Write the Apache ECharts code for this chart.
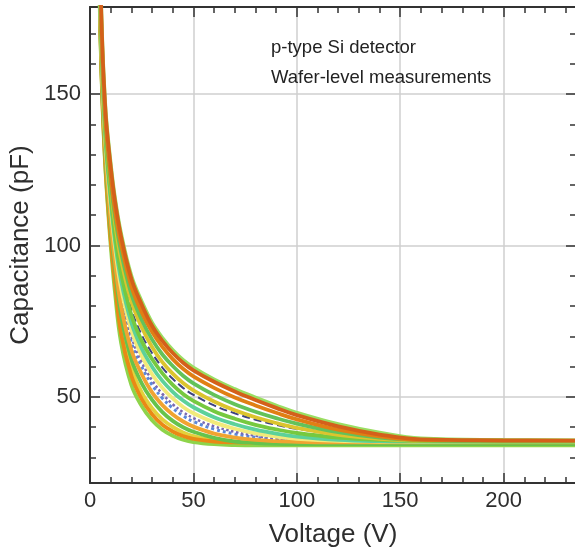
<!DOCTYPE html>
<html><head><meta charset="utf-8">
<script src="https://cdn.jsdelivr.net/npm/echarts@6/dist/echarts.min.js"></script>
<style>html,body{margin:0;padding:0;background:#fff}#c{width:575px;height:549px}</style>
</head><body><div id="c"></div>
<script>
// Bias voltage samples (V)
const voltages = [4,5,6,7,8,10,12,15,20,25,30,35,40,45,50,60,70,80,90,100,120,140,160,200,235];
// Capacitance curves (pF), lowest to highest
const c0  = [205,170,147,131,119,100,85,68,54,47,42.3,39.2,37.2,35.9,35.1,34.4,34.1,34,34,34,34,34,34,34,34];
const c1  = [207,171,148,132,120,102,88,71,57,49.3,44.3,40.8,38.6,37.1,36.2,35.3,35,34.9,34.8,34.8,34.8,34.8,34.8,34.8,34.8];
const c2  = [209,172,149,134,122,104,91,74,59.5,51.5,46.3,42.6,40.1,38.3,37.1,35.7,35.1,34.9,34.8,34.8,34.8,34.8,34.8,34.8,34.8];
const c3  = [211,173,150,135,123,106,93,77,62.5,54.5,49,45,42.1,40,38.5,36.5,35.3,34.8,34.5,34.4,34.4,34.4,34.4,34.4,34.4];
const c4  = [213,175,152,137,125,108,95,80,65.5,57.5,51.5,47.3,44.2,41.9,40.2,37.9,36.6,35.8,35.4,35.2,35,35,35,35,35];
const c5  = [215,176,153,138,126,110,97,82.5,68,60,54,49.6,46.3,43.8,41.9,39.4,37.8,36.7,35.9,35.5,35.1,35,35,35,35];
const c6  = [216,177,154,139,127,111,98,84,70,61.5,55.5,51,47.6,45,43,40.3,38.5,37.2,36.3,35.8,35.4,35.2,35.2,35.2,35.2];
const c7  = [218,178,155,140,128.5,113,100,86,72,63.5,57.5,53,49.5,46.7,44.6,41.6,39.5,38,36.9,36.2,35.5,35.3,35.2,35.2,35.2];
const c8  = [220,180,157,141.5,130,115,102,88.5,74.5,66,60,55.3,51.7,48.8,46.6,43.3,41,39.2,37.9,36.9,35.8,35.4,35.3,35.3,35.3];
const c9  = [222,181,158,143,131.5,117,104,91,77,68.5,62.5,57.8,54,51,48.7,45.3,42.8,40.8,39.3,38.1,36.6,35.8,35.4,35.3,35.3];
const c10 = [223,182,159,144,132.5,118,106,93,79,70.5,64.5,59.7,56,53,50.7,47.2,44.6,42.5,40.8,39.5,37.8,36.9,36.3,35.8,35.7];
const c11 = [225,184,160.5,145.5,134,120,108,95.5,81.5,73,66.5,61.5,57.7,54.6,52.2,48.5,45.6,43.3,41.4,39.8,37.5,36.2,35.6,35.5,35.5];
const c12 = [227,185,161.5,146.5,135,121,110,98,84,75.5,69,64,60.2,57,54.5,50.7,47.6,45.1,43,41.2,38.4,36.6,35.7,35.4,35.4];
const c13 = [229,187,163,148,137,123,112,100.5,86.5,78,71.5,66.5,62.5,59.3,56.8,53,49.8,47.2,44.8,42.6,39.2,37,35.8,35.6,35.6];
const c14 = [233,190,166,151,140.5,127,116,104,90,81.5,74.5,69.5,65.5,62.2,59.7,55.8,52.6,49.8,47.2,44.8,41,38.2,36.3,35.8,35.7];
const c15 = [232,189,165,150,139.5,126,115,103,89,80.5,73.5,68.5,64.5,61.3,58.8,55,51.8,49,46.4,44,40.3,37.6,36,35.7,35.6];
const curves = [c0,c1,c2,c3,c4,c5,c6,c7,c8,c9,c10,c11,c12,c13,c14,c15];

// Tick values
const xMajorTicks = [0,50,100,150,200];
const xMinorTicks = [10,20,30,40,60,70,80,90,110,120,130,140,160,170,180,190,210,220,230];
const yMajorTicks = [50,100,150];
const yMinorTicks = [30,40,60,70,80,90,110,120,130,140,160,170];
const annotationLines = ['p-type Si detector','Wafer-level measurements'];

// Styles
const colors = ['#8ed44a','#e98a15','#e3d13b','#66c34c','#f0a431','#5a88d8','#7a68b0','#f2ea7a',
                '#5cd19a','#76c93f','#3c4280','#dcc42e','#63c25a','#e07f14','#9ade62','#d4601a'];
const lineTypes = {5:'dotted',6:'dotted',10:'dashed'};
const lineWidths = {5:3,6:2.5,10:2};
const zOrder = {0:4,1:6,2:5,3:7,4:8,5:2,6:2,7:9,8:10,9:11,10:1,11:12,12:13,13:14,14:15,15:16};
const FONT = '"Liberation Sans", Arial, sans-serif';
const AX = '#333';
const X_MIN = 0, X_MAX = 235, Y_MIN = 21.6, Y_MAX = 178.7;

function xAx(pos, ticks, len, main) {
  return {
    type:'value', position:pos, min:X_MIN, max:X_MAX, offset:0,
    axisLine:{show:main, onZero:false, lineStyle:{color:AX, width:2}},
    axisTick:{show:true, inside:true, length:len, customValues:ticks, lineStyle:{color:AX, width:1.5}},
    axisLabel:{show: main && pos==='bottom', customValues:ticks, margin:7, fontSize:22, color:'#2e2e2e', fontFamily:FONT},
    splitLine:{show: main && pos==='bottom', lineStyle:{color:'#cfcfcf', width:1.5}},
    name: (main && pos==='bottom') ? 'Voltage (V)' : '',
    nameLocation:'middle', nameGap:39,
    nameTextStyle:{fontSize:26, color:'#2e2e2e', fontFamily:FONT}
  };
}
function yAx(pos, ticks, len, main) {
  return {
    type:'value', position:pos, min:Y_MIN, max:Y_MAX, offset:0,
    axisLine:{show:main && pos==='left', onZero:false, lineStyle:{color:AX, width:2}},
    axisTick:{show:true, inside:true, length:len, customValues:ticks, lineStyle:{color:AX, width:1.5}},
    axisLabel:{show: main && pos==='left', customValues:ticks, margin:9, fontSize:22, color:'#2e2e2e', fontFamily:FONT},
    splitLine:{show: main && pos==='left', lineStyle:{color:'#cfcfcf', width:1.5}},
    name: (main && pos==='left') ? 'Capacitance (pF)' : '',
    nameLocation:'middle', nameGap:51, nameRotate:90,
    nameTextStyle:{fontSize:26, color:'#2e2e2e', fontFamily:FONT}
  };
}

const series = curves.map((c, i) => ({
  type:'line', xAxisIndex:0, yAxisIndex:0,
  data: voltages.map((v, k) => [v, c[k]]),
  showSymbol:false, smooth:0.4, clip:true,
  lineStyle:{color:colors[i], width: lineWidths[i] || 3.8, type: lineTypes[i] || 'solid'},
  z: 3 + zOrder[i]
}));

const chart = echarts.init(document.getElementById('c'), null, {renderer:'canvas'});
chart.setOption({
  animation:false,
  backgroundColor:'#fff',
  grid:{left:90, top:7, width:486, height:476, containLabel:false, outerBoundsMode:'none'},
  xAxis:[
    xAx('bottom', xMajorTicks, 10, true),
    xAx('bottom', xMinorTicks, 6, false),
    xAx('top', xMajorTicks, 10, true),
    xAx('top', xMinorTicks, 6, false)
  ],
  yAxis:[
    yAx('left', yMajorTicks, 10, true),
    yAx('left', yMinorTicks, 6, false),
    yAx('right', yMajorTicks, 10, true),
    yAx('right', yMinorTicks, 6, false)
  ],
  graphic: annotationLines.map((t, i) => ({
    type:'text', left:271, top:38 + i*30, z:100,
    style:{text:t, fontSize:18.5, fill:'#222', fontFamily:FONT}
  })),
  series: series
});
</script>
</body></html>
